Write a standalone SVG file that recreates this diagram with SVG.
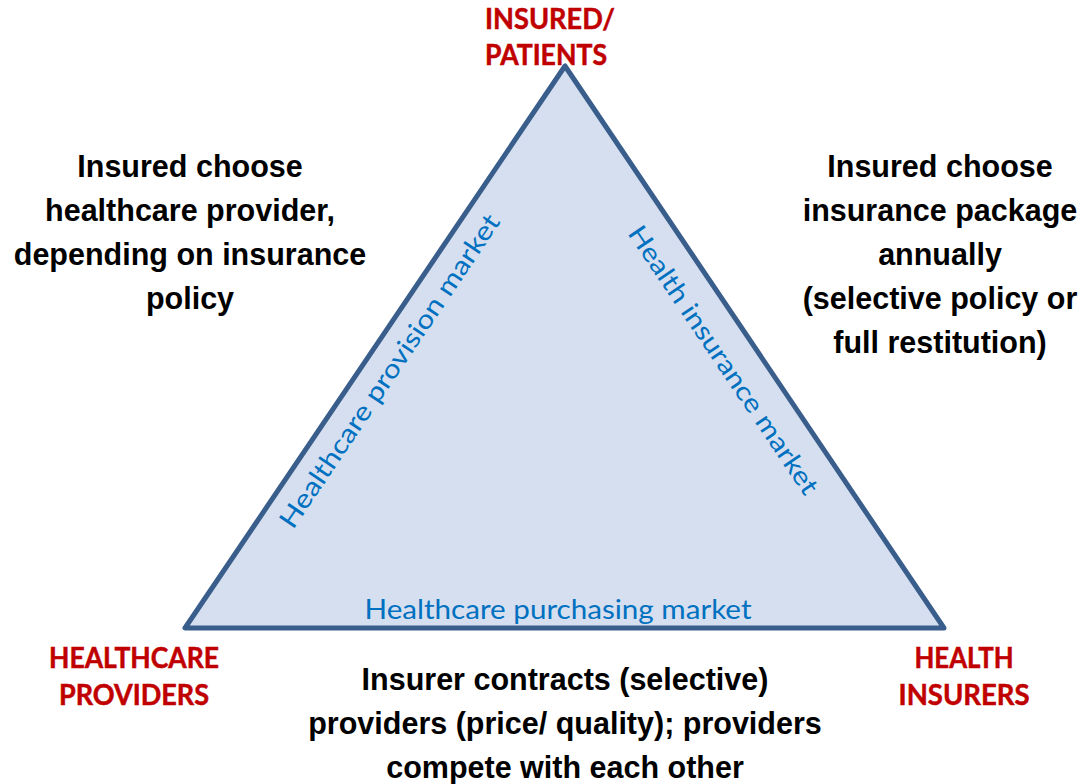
<svg xmlns="http://www.w3.org/2000/svg" width="1082" height="784" viewBox="0 0 1082 784">
  <style>
    .note { font-family: "Liberation Sans", Arial, sans-serif; font-weight: bold; font-size: 30.5px; fill: #000; text-anchor: middle; }
    .actor { font-family: Lato, "Open Sans", sans-serif; font-weight: bold; font-size: 28px; fill: #C00000; text-anchor: middle; stroke: #C00000; stroke-width: 0.5px; }
    .market { font-family: Lato, "Open Sans", sans-serif; font-size: 26px; fill: #0070C0; text-anchor: middle; }
  </style>
  <rect width="1082" height="784" fill="#FFFFFF"/>

  <!-- market triangle -->
  <g id="connectors">
    <polygon points="565,66 185,628 944,628" fill="#D5DFEF" stroke="#3A5E8C" stroke-width="5" stroke-linejoin="round"/>
  </g>

  <!-- market labels along the triangle sides -->
  <g id="provision-market">
    <text class="market" transform="translate(397,376) rotate(-56)" textLength="372" lengthAdjust="spacingAndGlyphs">Healthcare provision market</text>
  </g>
  <g id="insurance-market">
    <text class="market" transform="translate(716,365) rotate(56)" textLength="318" lengthAdjust="spacingAndGlyphs">Health insurance market</text>
  </g>
  <g id="purchasing-market">
    <text class="market" x="558" y="619" textLength="387" lengthAdjust="spacingAndGlyphs">Healthcare purchasing market</text>
  </g>

  <!-- actors at the corners -->
  <g id="insured-patients">
    <text class="actor" x="550" y="29" textLength="130" lengthAdjust="spacingAndGlyphs">INSURED/</text>
    <text class="actor" x="546" y="65" textLength="122" lengthAdjust="spacingAndGlyphs">PATIENTS</text>
  </g>
  <g id="healthcare-providers">
    <text class="actor" x="134" y="668" textLength="170" lengthAdjust="spacingAndGlyphs">HEALTHCARE</text>
    <text class="actor" x="134" y="705" textLength="150" lengthAdjust="spacingAndGlyphs">PROVIDERS</text>
  </g>
  <g id="health-insurers">
    <text class="actor" x="964" y="668" textLength="99" lengthAdjust="spacingAndGlyphs">HEALTH</text>
    <text class="actor" x="964" y="705" textLength="131" lengthAdjust="spacingAndGlyphs">INSURERS</text>
  </g>

  <!-- explanatory notes -->
  <g id="provider-choice">
    <text class="note" x="190" y="177">Insured choose</text>
    <text class="note" x="190" y="221">healthcare provider,</text>
    <text class="note" x="190" y="265">depending on insurance</text>
    <text class="note" x="190" y="309">policy</text>
  </g>
  <g id="package-choice">
    <text class="note" x="940" y="177">Insured choose</text>
    <text class="note" x="940" y="221">insurance package</text>
    <text class="note" x="940" y="265">annually</text>
    <text class="note" x="940" y="309">(selective policy or</text>
    <text class="note" x="940" y="353">full restitution)</text>
  </g>
  <g id="contracting">
    <text class="note" x="565" y="690">Insurer contracts (selective)</text>
    <text class="note" x="565" y="734">providers (price/ quality); providers</text>
    <text class="note" x="565" y="778">compete with each other</text>
  </g>
</svg>
